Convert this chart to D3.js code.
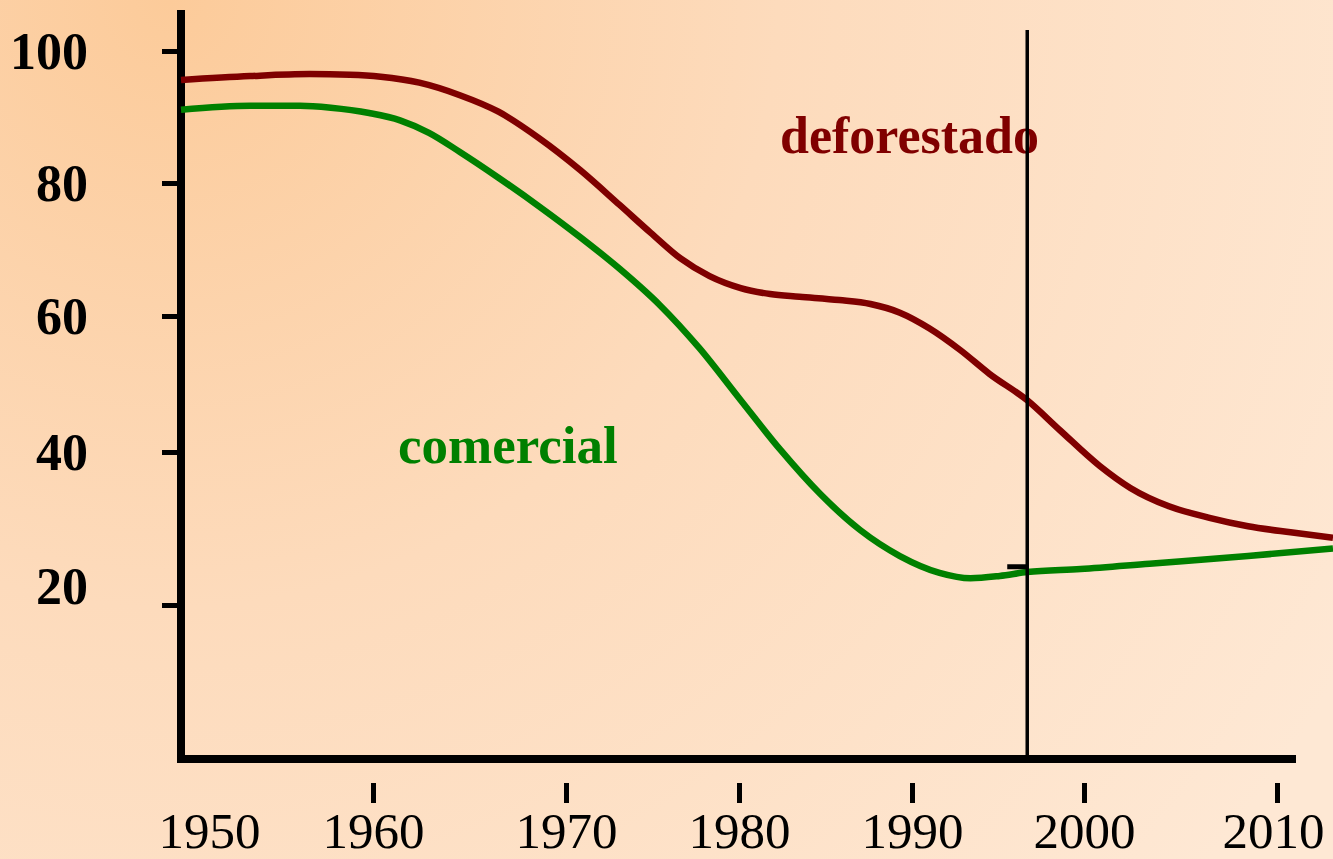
<!DOCTYPE html>
<html>
<head>
<meta charset="utf-8">
<script src="https://cdn.jsdelivr.net/npm/d3@7/dist/d3.min.js"></script>
<style>
  html, body { margin: 0; padding: 0; overflow: hidden; }
  svg { display: block; }
</style>
</head>
<body>
<svg id="chart" width="1333" height="859"></svg>
<script>
// ---- Data ----
const xTickYears = [1950, 1960, 1970, 1980, 1990, 2000, 2010];
const yTickValues = [20, 40, 60, 80, 100];

const deforestadoYears  = [1950, 1953.6, 1956.7, 1958.8, 1960.4, 1962.4, 1964.5, 1966.5, 1968.6, 1970.8, 1973.1, 1974.9, 1976.6, 1978.3, 1980.1, 1981.8, 1983.5, 1985.8, 1987.6, 1989.3, 1991.0, 1992.8, 1994.5, 1996.7, 1998.6, 2000.8, 2002.4, 2004.4, 2006.5, 2008.5, 2010.7, 2012.9];
const deforestadoValues = [95.6, 96.2, 96.5, 96.4, 96.1, 95.2, 93.3, 90.8, 86.8, 82.0, 76.7, 72.5, 68.7, 66.0, 64.2, 63.3, 62.9, 62.4, 61.8, 60.5, 58.2, 55.0, 51.5, 47.6, 43.2, 38.2, 35.3, 32.9, 31.4, 30.3, 29.5, 28.8];

const comercialYears  = [1950, 1953.6, 1956.2, 1957.8, 1959.8, 1961.4, 1962.9, 1964.5, 1966.5, 1968.6, 1970.8, 1973.1, 1975.4, 1977.7, 1980.1, 1982.4, 1984.7, 1987.0, 1989.3, 1991.6, 1993.4, 1995.1, 1996.7, 1999.8, 2003.4, 2008.5, 2012.9];
const comercialValues = [91.1, 91.7, 91.7, 91.4, 90.6, 89.5, 87.6, 84.7, 80.8, 76.5, 71.9, 67.1, 61.7, 55.3, 47.6, 40.3, 34.5, 29.8, 26.4, 24.2, 23.5, 23.8, 24.3, 24.7, 25.4, 26.4, 27.4];

const seriesNames = ["deforestado", "comercial"];
const markerYear = 1996.7;   // vertical reference line
const markerValue = 25;      // small tick on reference line

// ---- Layout ----
const svg = d3.select("#chart");
const W = 1333, H = 859;

const defs = svg.append("defs");
const grad = defs.append("radialGradient")
  .attr("id", "bg").attr("gradientUnits", "userSpaceOnUse")
  .attr("cx", 170).attr("cy", 0).attr("r", 1350);
grad.append("stop").attr("offset", "0").attr("stop-color", "#FCCB9A");
grad.append("stop").attr("offset", "0.45").attr("stop-color", "#FDDBBC");
grad.append("stop").attr("offset", "1").attr("stop-color", "#FEE8D4");
svg.append("rect").attr("width", W).attr("height", H).attr("fill", "url(#bg)");

// piecewise scales (tick spacing in the original is uneven)
const x = d3.scaleLinear()
  .domain([1950, 1960, 1970, 1980, 1990, 2000, 2010, 2020])
  .range([181, 373, 566, 739, 912, 1084, 1277, 1470]);
const y = d3.scaleLinear()
  .domain([0, 20, 40, 60, 80, 100])
  .range([759, 605, 452, 316, 183, 51]);

const serif = "'Liberation Serif', 'Times New Roman', serif";

// ---- Y axis ticks ----
const yAxis = d3.axisLeft(y).tickValues(yTickValues).tickSize(15).tickPadding(0)
  .tickFormat(d3.format("d"));
const gy = svg.append("g").attr("transform", "translate(177,0)").call(yAxis);
gy.select(".domain").remove();
gy.selectAll(".tick line").attr("stroke", "#000").attr("stroke-width", 5);
gy.selectAll(".tick text")
  .attr("x", -89)
  .attr("dy", d => d === 20 ? "-0.02em" : "0.34em")
  .attr("fill", "#000")
  .style("font-family", serif).style("font-weight", "bold").style("font-size", "52px");

// ---- X axis ticks ----
const xAxis = d3.axisBottom(x).tickValues(xTickYears).tickSize(20).tickPadding(0)
  .tickFormat(d3.format("d"));
const gx = svg.append("g").attr("transform", "translate(0,783)").call(xAxis);
gx.select(".domain").remove();
gx.selectAll(".tick line").attr("stroke", "#000").attr("stroke-width", 5)
  .attr("opacity", d => d === 1950 ? 0 : 1);
gx.selectAll(".tick text")
  .attr("y", 65).attr("dy", 0)
  .attr("x", d => d === 1950 ? 28 : (d === 2010 ? -4 : 0))
  .attr("fill", "#000")
  .style("font-family", serif).style("font-weight", "normal").style("font-size", "51px");

// ---- Axis lines ----
svg.append("line").attr("x1", 181).attr("x2", 181).attr("y1", 10).attr("y2", 763)
  .attr("stroke", "#000").attr("stroke-width", 8);
svg.append("line").attr("x1", 177).attr("x2", 1296).attr("y1", 759).attr("y2", 759)
  .attr("stroke", "#000").attr("stroke-width", 8);

// ---- Lines ----
const line = d3.line().x(d => x(d[0])).y(d => y(d[1])).curve(d3.curveMonotoneX);
const defData = deforestadoYears.map((yr, i) => [yr, deforestadoValues[i]]);
const comData = comercialYears.map((yr, i) => [yr, comercialValues[i]]);

svg.append("path").datum(defData).attr("d", line)
  .attr("fill", "none").attr("stroke", "#7F0000").attr("stroke-width", 6.5)
  .attr("stroke-linejoin", "round");
svg.append("path").datum(comData).attr("d", line)
  .attr("fill", "none").attr("stroke", "#008000").attr("stroke-width", 6.5)
  .attr("stroke-linejoin", "round");

// ---- Series labels ----
svg.append("text").attr("x", 780).attr("y", 153).text(seriesNames[0])
  .attr("fill", "#800000").style("font-family", serif).style("font-weight", "bold").style("font-size", "52px");

// ---- Reference vertical line & marker ----
svg.append("line").attr("x1", x(markerYear)).attr("x2", x(markerYear)).attr("y1", 30).attr("y2", 759)
  .attr("stroke", "#000").attr("stroke-width", 3.5);
svg.append("line").attr("x1", x(markerYear) - 20).attr("x2", x(markerYear)).attr("y1", y(markerValue)).attr("y2", y(markerValue))
  .attr("stroke", "#000").attr("stroke-width", 5);

svg.append("text").attr("x", 398).attr("y", 463).text(seriesNames[1])
  .attr("fill", "#008000").style("font-family", serif).style("font-weight", "bold").style("font-size", "53px");
</script>
</body>
</html>
